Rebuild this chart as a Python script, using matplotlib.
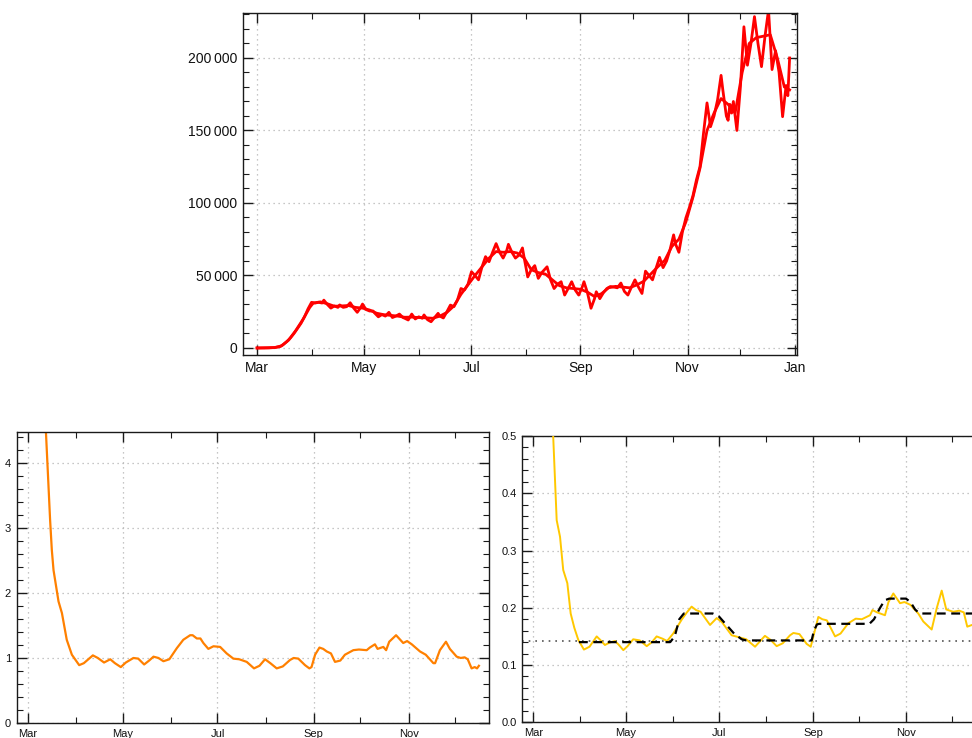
import numpy as np
import matplotlib
matplotlib.use("Agg")
import matplotlib.pyplot as plt
import matplotlib.dates as mdates
from matplotlib.ticker import MultipleLocator, FuncFormatter

plt.rcParams['font.family'] = ['Liberation Sans', 'DejaVu Sans']

# ---------------- data (days after 2020-03-01) ----------------
cases_raw_days = [0, 6, 10, 13, 15, 17, 19, 21, 23, 25, 27, 29, 31, 33, 35, 37, 38, 40, 42, 44, 46, 47, 49, 51,
                  53, 55, 57, 59, 60, 62, 64, 66, 67, 69, 71, 73, 75, 77, 79, 81, 83, 84, 86, 88, 90, 92, 94, 95,
                  97, 99, 101, 103, 104, 106, 108, 110, 112, 114, 116, 118, 120, 122, 124, 126, 128, 130, 132,
                  134, 136, 138, 140, 142, 143, 145, 147, 149, 151, 152, 154, 156, 158, 160, 162, 165, 167, 169,
                  171, 173, 175, 177, 179, 181, 183, 185, 186, 188, 190, 192, 193, 195, 197, 199, 201, 203, 205,
                  207, 209, 211, 213, 215, 217, 219, 221, 223, 225, 227, 229, 231, 233, 235, 237, 238, 240, 242,
                  244, 246, 248, 250, 252, 254, 256, 258, 260, 262, 264, 265, 267, 268, 269, 270, 271, 273, 275,
                  277, 279, 281, 283, 285, 287, 289, 291, 293, 295, 297, 299, 301, 302, 303]
cases_raw = [0, 50, 300, 900, 2500, 4500, 7000, 10000, 13500, 17000, 21500, 27000, 31500, 31000, 31500, 31000,
             33000, 30000, 27500, 29000, 28000, 29700, 28000, 28500, 31200, 27500, 24600, 28000, 30300, 26500,
             25500, 25500, 24000, 21500, 23000, 22000, 24600, 21000, 22000, 23400, 21000, 20500, 19300, 23400,
             20000, 21500, 20500, 22800, 19500, 18100, 21000, 23900, 22000, 20700, 25000, 29600, 28500, 33000,
             41000, 40000, 44000, 52600, 50000, 47000, 56000, 63000, 59500, 66000, 72000, 66000, 62000, 67000,
             71500, 66000, 62000, 64000, 69000, 62000, 49000, 54000, 56800, 48000, 52000, 56000, 47000, 41000,
             44000, 45700, 36500, 41000, 45700, 40000, 36500, 42000, 45700, 38000, 27400, 34000, 38800, 34000,
             38000, 41000, 42400, 42000, 41500, 44800, 39000, 36500, 42000, 47000, 42000, 37600, 53000, 50000,
             47000, 55000, 62500, 55400, 60000, 68000, 78000, 72000, 66000, 80000, 89800, 97000, 105000, 116000,
             125000, 148000, 169000, 152600, 160000, 171000, 188000, 178000, 160000, 157000, 168000, 162000,
             170000, 150000, 180000, 221500, 195000, 210000, 228500, 210000, 194000, 215000, 233000, 192000,
             205000, 190000, 159500, 181000, 174000, 200000]

cases_avg_days = [0, 10, 14, 18, 22, 26, 30, 32, 36, 40, 44, 48, 52, 56, 60, 64, 68, 72, 76, 80, 84, 88, 92, 96,
                  100, 104, 108, 112, 116, 120, 124, 128, 132, 136, 140, 144, 148, 152, 156, 160, 164, 168, 172,
                  176, 180, 184, 188, 192, 196, 200, 204, 208, 212, 216, 220, 224, 228, 232, 236, 240, 244, 248,
                  252, 256, 260, 264, 268, 272, 276, 280, 284, 288, 292, 296, 300, 303]
cases_avg = [0, 300, 1500, 5500, 12000, 19500, 28000, 31000, 31800, 30500, 28800, 29000, 29300, 28000, 27500,
             26200, 24000, 23000, 22500, 22000, 21200, 21300, 21000, 20800, 20500, 22000, 24500, 29000, 37000,
             43500, 50000, 56000, 62000, 66500, 66000, 66500, 65500, 62000, 54000, 52000, 51000, 47000, 43000,
             41500, 41000, 40500, 38500, 35500, 37500, 41500, 42500, 42000, 41500, 43500, 46000, 51000, 56000,
             60500, 70000, 75000, 87000, 104000, 124000, 150000, 162000, 172000, 168000, 162000, 190000, 210000,
             214000, 215000, 216000, 200000, 180000, 178000]

r_days = [11, 11.6, 14.3, 15.4, 16.5, 19.7, 21.9, 25, 28.3, 33, 36, 41.8, 45, 49, 53, 56, 59.8, 63, 67.9, 71,
          74.8, 78, 80.8, 84, 87.2, 91, 95.8, 100, 104.4, 106, 108.7, 111, 112.9, 116.1, 119.4, 123.7, 127.9,
          132.2, 136, 140.8, 145.5, 149, 152.6, 156, 160.1, 164, 168.7, 171, 174, 178.3, 181.1, 182.5, 184.8,
          187.6, 190, 192.3, 195, 197.6, 201, 204, 209.4, 213, 218, 220, 223.3, 225, 228.7, 230.5, 232.5,
          236.9, 241.5, 244, 247, 252.3, 256, 260.9, 262, 265.1, 269, 271.5, 275.9, 278.5, 281, 283, 285.5,
          287.5, 289, 290.2]
r_vals = [4.8, 4.48, 3.12, 2.66, 2.35, 1.87, 1.69, 1.28, 1.05, 0.89, 0.92, 1.04, 1.00, 0.93, 0.98, 0.92, 0.86,
          0.93, 1.00, 0.99, 0.90, 0.96, 1.02, 1.00, 0.95, 0.98, 1.15, 1.28, 1.35, 1.35, 1.30, 1.30, 1.23, 1.14,
          1.18, 1.17, 1.07, 0.99, 0.98, 0.94, 0.84, 0.88, 0.98, 0.92, 0.84, 0.87, 0.97, 1.00, 0.99, 0.89, 0.84,
          0.86, 1.05, 1.16, 1.14, 1.10, 1.07, 0.94, 0.96, 1.05, 1.12, 1.13, 1.12, 1.16, 1.21, 1.14, 1.17, 1.12,
          1.25, 1.35, 1.23, 1.26, 1.21, 1.10, 1.05, 0.92, 0.92, 1.12, 1.25, 1.14, 1.02, 1.00, 1.01, 0.98, 0.84,
          0.86, 0.84, 0.88]

f_days = [12.5, 13.1, 15.4, 17.6, 19.7, 22.4, 24.6, 27, 29.6, 33.3, 37, 41.7, 44, 47.1, 50, 53.7, 56, 59.2, 62,
          65.7, 70, 74.6, 78, 81.1, 85, 88, 92, 97.5, 101, 104.1, 107, 110, 116.2, 120.6, 124, 130.4, 136, 140,
          145.8, 152.3, 156, 160, 164, 168.8, 171, 175, 179.7, 182.4, 184.6, 187.4, 190, 193, 198.4, 202, 207.1,
          212, 216, 221.4, 223, 226, 231.2, 233.5, 236.7, 241.1, 244, 248, 253.1, 256.4, 261.9, 265.2, 268.5,
          271.5, 276.1, 280, 283, 285.3, 288.4, 291]
f_vals = [0.54, 0.5, 0.353, 0.324, 0.266, 0.243, 0.19, 0.165, 0.144, 0.127, 0.132, 0.150, 0.144, 0.135, 0.139,
          0.142, 0.136, 0.126, 0.133, 0.145, 0.143, 0.133, 0.140, 0.150, 0.146, 0.142, 0.155, 0.179, 0.192, 0.202,
          0.196, 0.193, 0.170, 0.182, 0.175, 0.152, 0.148, 0.145, 0.132, 0.151, 0.144, 0.133, 0.138, 0.152, 0.156,
          0.154, 0.137, 0.132, 0.155, 0.184, 0.180, 0.178, 0.150, 0.155, 0.173, 0.181, 0.180, 0.187, 0.196, 0.192,
          0.187, 0.21, 0.225, 0.208, 0.210, 0.205, 0.190, 0.176, 0.162, 0.199, 0.230, 0.197, 0.193, 0.195, 0.192,
          0.167, 0.170, 0.168]

fit_days = [30, 90, 93, 96, 99, 118, 122, 127, 132, 137, 140, 183, 184.5, 186.5, 188, 221, 224, 228, 231, 234,
            245, 248, 251, 254, 300]
fit_vals = [0.14, 0.14, 0.15, 0.18, 0.19, 0.19, 0.185, 0.17, 0.155, 0.145, 0.143, 0.143, 0.16, 0.171, 0.172,
            0.172, 0.18, 0.2, 0.213, 0.216, 0.216, 0.21, 0.197, 0.19, 0.19]
baseline = 0.1425

# ---------------- helpers ----------------
base = mdates.date2num(np.datetime64('2020-03-01'))


def tx(days):
    return base + np.asarray(days, dtype=float)


FRAME = '#1a1a1a'
GRID = dict(color='#b4b4b4', linestyle=(0, (1, 3)), linewidth=0.9)


def style(ax, fs, ymaj, ymin_, xlo, xhi, ylo, yhi, labelfmt=None, grid_x=None, grid_y=None):
    ax.set_xlim(tx(xlo), tx(xhi))
    ax.set_ylim(ylo, yhi)
    ax.xaxis.set_major_locator(mdates.MonthLocator(bymonth=[1, 3, 5, 7, 9, 11]))
    ax.xaxis.set_minor_locator(mdates.MonthLocator(bymonth=[2, 4, 6, 8, 10, 12]))
    ax.xaxis.set_major_formatter(mdates.DateFormatter('%b'))
    ax.yaxis.set_major_locator(MultipleLocator(ymaj))
    ax.yaxis.set_minor_locator(MultipleLocator(ymin_))
    if labelfmt is not None:
        ax.yaxis.set_major_formatter(labelfmt)
    ax.tick_params(which='both', direction='in', top=True, right=True, colors=FRAME,
                   labelcolor='#111111', labelsize=fs)
    ax.tick_params(which='major', length=7, width=1.0, pad=4)
    ax.tick_params(which='minor', length=4, width=0.8)
    for s in ax.spines.values():
        s.set_color(FRAME)
        s.set_linewidth(1.0)
    ax.grid(True, which='major', **GRID)
    ax.set_axisbelow(True)


fig = plt.figure(figsize=(9.72, 7.38), dpi=100)

# ---------------- top: daily cases ----------------
ax1 = fig.add_axes([243 / 972, 1 - 355 / 738, 554 / 972, 342 / 738])
fmt = FuncFormatter(lambda v, p: '{:,}'.format(int(round(v))).replace(',', '\u2009'))
style(ax1, 10, 50000, 10000, -8.0, 307.2, -4830, 231000, labelfmt=fmt)
ax1.plot(tx(cases_avg_days), cases_avg, color='#ff0000', lw=2.0, solid_joinstyle='round')
ax1.plot(tx(cases_raw_days), cases_raw, color='#ff0000', lw=2.0, solid_joinstyle='round')

# ---------------- bottom left: R ----------------
ax2 = fig.add_axes([16.7 / 972, 1 - 723 / 738, 472 / 972, 291.3 / 738])
style(ax2, 8, 1, 0.2, -7.2, 296.5, 0, 4.48)
ax2.yaxis.set_major_formatter(FuncFormatter(lambda v, p: '%d' % round(v)))
ax2.plot(tx(r_days), r_vals, color='#ff8000', lw=1.6, solid_joinstyle='round')

# ---------------- bottom right: ratio ----------------
ax3 = fig.add_axes([522.3 / 972, 1 - 722.3 / 738, 462 / 972, 286.3 / 738])
style(ax3, 8, 0.1, 0.02, -7.2, 296.5, 0, 0.5)
ax3.yaxis.set_major_formatter(FuncFormatter(lambda v, p: '%.1f' % v))
ax3.axhline(baseline, color='#555555', linestyle=(0, (1, 3)), lw=1.2, zorder=2)
ax3.plot(tx(f_days), f_vals, color='#ffc800', lw=1.4, solid_joinstyle='round', zorder=3)
ax3.plot(tx(fit_days), fit_vals, color='black', lw=1.6, linestyle=(0, (4, 2.5)), zorder=4)

fig.savefig('out.png', dpi=100)
